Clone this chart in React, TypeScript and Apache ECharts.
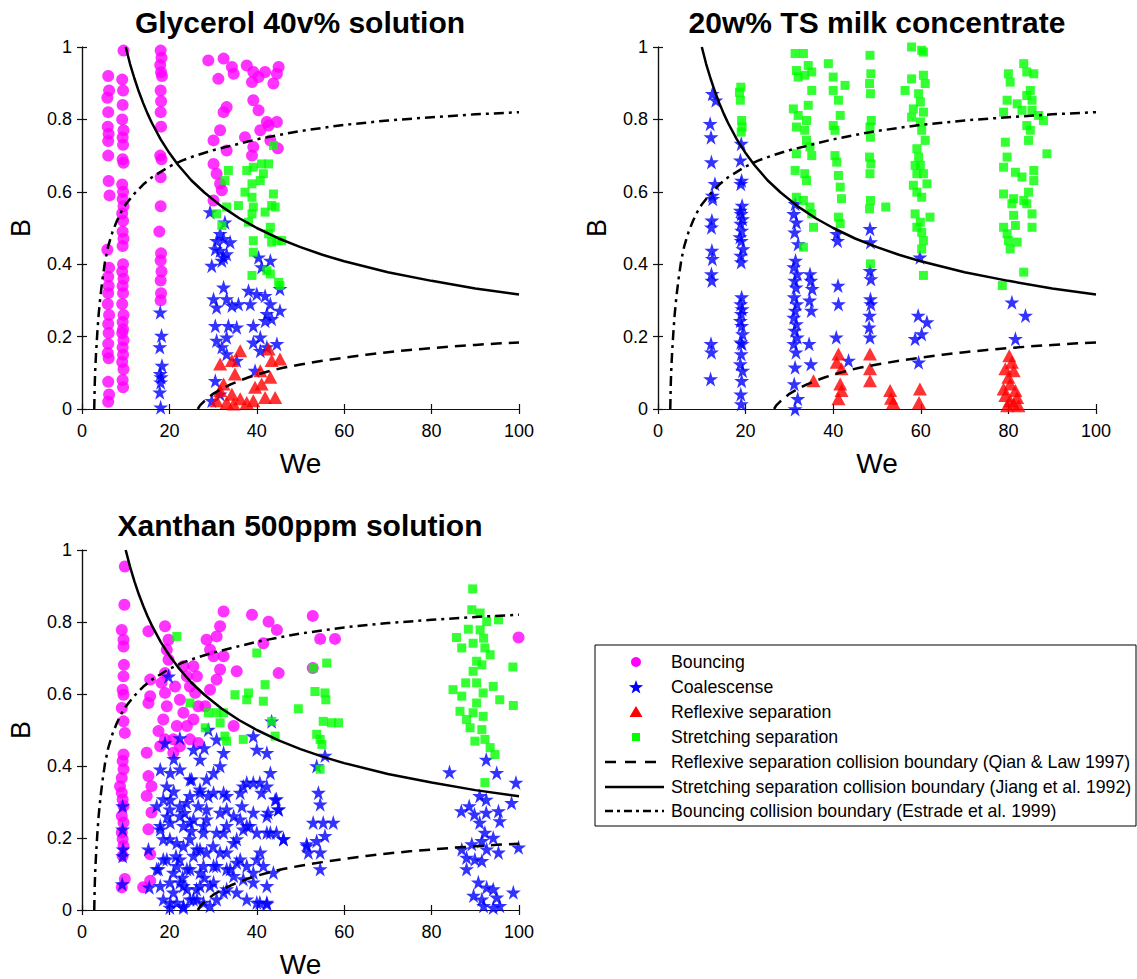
import React, { useEffect, useRef } from 'react';
import * as echarts from 'echarts';

// ---------- tick labels / texts ----------
const xTicks = [0, 20, 40, 60, 80, 100];
const yTicks = [0, 0.2, 0.4, 0.6, 0.8, 1];
const panelTitles = ['Glycerol 40v% solution', '20w% TS milk concentrate', 'Xanthan 500ppm solution'];
const legendLabels = [
  'Bouncing',
  'Coalescense',
  'Reflexive separation',
  'Stretching separation',
  'Reflexive separation collision boundary (Qian & Law 1997)',
  'Stretching separation collision boundary (Jiang et al. 1992)',
  'Bouncing collision boundary (Estrade et al. 1999)',
];

// ---------- boundary curves ----------
const reflexiveWe = [26.5, 27, 28, 29, 30, 32, 34, 36, 38, 40, 43, 46, 50, 55, 60, 65, 70, 75, 80, 85, 90, 95, 100];
const reflexiveB = [0, 0.01, 0.022, 0.032, 0.042, 0.056, 0.068, 0.078, 0.087, 0.095, 0.105, 0.114, 0.123, 0.133, 0.142, 0.15, 0.157, 0.163, 0.168, 0.173, 0.177, 0.181, 0.184];
const stretchWe = [10, 11, 12, 13, 14, 15, 16, 18, 20, 22, 25, 28, 32, 36, 40, 45, 50, 55, 60, 70, 80, 90, 100];
const stretchB = [1.0, 0.953, 0.913, 0.877, 0.845, 0.816, 0.79, 0.745, 0.707, 0.674, 0.632, 0.598, 0.559, 0.527, 0.5, 0.471, 0.447, 0.426, 0.408, 0.378, 0.354, 0.333, 0.316];
const bounceWe = [2.8, 2.9, 3.0, 3.2, 3.5, 3.8, 4.2, 4.7, 5.3, 6, 7, 8, 9, 10, 12, 14, 16, 18, 20, 23, 26, 30, 35, 40, 45, 50, 60, 70, 80, 90, 100];
const bounceB = [0, 0.06, 0.1, 0.15, 0.21, 0.26, 0.31, 0.36, 0.41, 0.45, 0.49, 0.52, 0.545, 0.565, 0.595, 0.62, 0.64, 0.655, 0.67, 0.687, 0.7, 0.715, 0.73, 0.745, 0.757, 0.768, 0.785, 0.797, 0.806, 0.814, 0.82];

// ---------- Glycerol 40v% ----------
const glyBouncing = [
  [6.0, 0.92], [6.2, 0.88], [5.8, 0.86], [6.0, 0.82], [5.9, 0.78], [6.1, 0.76], [6.0, 0.74], [6.0, 0.7], [6.1, 0.63], [6.3, 0.59],
  [5.8, 0.44], [6.2, 0.39], [6.0, 0.365], [6.1, 0.34], [6.0, 0.32], [5.9, 0.29], [6.2, 0.26], [6.0, 0.235], [6.1, 0.21], [6.0, 0.18],
  [5.9, 0.155], [6.1, 0.14], [6.0, 0.075], [6.2, 0.04], [6.0, 0.02],
  [9.5, 0.99], [9.2, 0.91], [9.4, 0.88], [9.3, 0.84], [9.2, 0.8], [9.5, 0.77], [9.3, 0.75], [9.4, 0.73], [9.3, 0.69], [9.5, 0.68],
  [9.2, 0.62], [9.4, 0.6], [9.3, 0.58], [9.5, 0.56], [9.2, 0.54], [9.4, 0.52], [9.3, 0.49], [9.5, 0.47], [9.3, 0.45], [9.4, 0.4],
  [9.2, 0.38], [9.5, 0.36], [9.3, 0.34], [9.4, 0.32], [9.2, 0.29], [9.5, 0.26], [9.3, 0.24], [9.4, 0.22], [9.2, 0.21], [9.5, 0.19],
  [9.3, 0.17], [9.4, 0.15], [9.2, 0.13], [9.5, 0.11], [9.3, 0.08], [9.4, 0.06],
  [18.0, 0.99], [18.2, 0.97], [17.9, 0.95], [18.1, 0.93], [18.3, 0.92], [18.0, 0.88], [18.1, 0.85], [18.0, 0.82], [18.1, 0.78], [17.9, 0.7],
  [18.2, 0.69], [18.0, 0.64], [18.0, 0.56], [17.7, 0.49], [18.1, 0.43], [18.0, 0.41], [18.2, 0.38], [18.0, 0.355], [18.1, 0.32], [18.0, 0.3],
  [28.9, 0.963], [32.4, 0.968], [31.2, 0.912], [34.3, 0.945], [34.7, 0.926], [37.7, 0.949], [39.2, 0.931], [40.4, 0.917], [41.9, 0.931], [45.0, 0.945],
  [44.6, 0.926], [43.8, 0.899], [38.9, 0.903], [39.2, 0.853], [40.4, 0.825], [33.1, 0.834], [32.4, 0.82], [42.3, 0.793], [44.6, 0.793], [40.8, 0.77],
  [31.6, 0.77], [37.3, 0.751], [30.1, 0.742], [39.2, 0.724], [33.1, 0.714], [38.9, 0.7], [30.1, 0.677], [30.8, 0.65], [31.6, 0.622], [32.0, 0.604],
  [30.1, 0.576], [43.1, 0.742], [42.7, 0.783], [44.8, 0.72],
];
const glyCoalescence = [
  [17.9, 0.267], [18.2, 0.203], [17.8, 0.171], [18.3, 0.12], [17.9, 0.097], [18.1, 0.088], [18.0, 0.074], [17.8, 0.046], [18.0, 0.005],
  [29.3, 0.544], [32.7, 0.516], [31.6, 0.484], [30.8, 0.465], [32.4, 0.47], [33.9, 0.461], [30.5, 0.442], [31.6, 0.438], [33.1, 0.428], [32.0, 0.41],
  [29.7, 0.396], [32.4, 0.419], [43.1, 0.41], [41.1, 0.392], [40.4, 0.419],
  [32.4, 0.336], [30.1, 0.304], [33.1, 0.304], [30.8, 0.281], [34.3, 0.286], [38.1, 0.327], [40.0, 0.318], [41.9, 0.313], [43.1, 0.29], [45.3, 0.332],
  [38.5, 0.29], [35.8, 0.29], [30.5, 0.23], [33.5, 0.23], [35.4, 0.226], [39.2, 0.23], [41.9, 0.244], [43.4, 0.249], [45.3, 0.272], [30.8, 0.189],
  [33.1, 0.198], [32.0, 0.171], [39.2, 0.184], [40.8, 0.161], [42.3, 0.171], [44.6, 0.18], [33.1, 0.152], [35.4, 0.134], [39.6, 0.106], [30.5, 0.078],
  [31.6, 0.041], [29.7, 0.023], [40.8, 0.198], [42.3, 0.263],
];
const glyReflexive = [
  [36.2, 0.161], [34.3, 0.134], [31.6, 0.124], [42.7, 0.166], [43.4, 0.134], [45.3, 0.138], [40.8, 0.106], [35.0, 0.097], [32.4, 0.069], [31.6, 0.051],
  [34.3, 0.041], [36.2, 0.028], [39.2, 0.023], [41.9, 0.032], [44.2, 0.032], [30.8, 0.023], [33.1, 0.018], [37.7, 0.018], [34.7, 0.014], [41.1, 0.069],
  [39.6, 0.06], [43.1, 0.088],
];
const glyStretching = [
  [43.8, 0.728], [33.5, 0.659], [32.7, 0.631], [37.7, 0.659], [39.2, 0.668], [41.1, 0.677], [42.7, 0.677], [41.5, 0.65], [40.8, 0.631], [38.9, 0.622],
  [37.3, 0.599], [43.8, 0.594], [38.9, 0.585], [33.1, 0.558], [35.8, 0.562], [39.2, 0.558], [41.9, 0.544], [43.4, 0.562], [44.2, 0.558], [30.8, 0.539],
  [32.0, 0.507], [43.1, 0.502], [42.7, 0.484], [44.6, 0.465], [43.4, 0.461], [45.7, 0.465], [39.2, 0.465], [39.2, 0.433], [42.3, 0.382], [43.1, 0.373],
  [38.9, 0.369], [45.0, 0.35], [45.3, 0.341], [38.1, 0.516], [38.9, 0.539],
];

// ---------- 20w% TS milk concentrate ----------
const milkBouncing: number[][] = [];
const milkCoalescence = [
  [12.4, 0.871], [13.2, 0.853], [11.9, 0.788], [12.1, 0.751], [12.2, 0.682], [13.0, 0.622], [12.4, 0.59], [12.5, 0.581], [12.3, 0.521], [12.2, 0.502],
  [12.3, 0.438], [12.4, 0.415], [12.2, 0.373], [12.3, 0.355], [12.1, 0.18], [12.2, 0.157], [12.0, 0.083],
  [19.0, 0.733], [18.8, 0.687], [19.1, 0.631], [18.9, 0.622], [19.2, 0.562], [18.8, 0.548], [19.0, 0.539], [19.3, 0.525], [18.9, 0.512], [19.1, 0.493],
  [18.7, 0.475], [19.0, 0.465], [19.4, 0.442], [18.9, 0.424], [19.0, 0.406], [19.1, 0.309], [18.9, 0.29], [19.2, 0.276], [19.0, 0.263], [18.8, 0.244],
  [19.1, 0.23], [19.3, 0.207], [18.9, 0.184], [19.2, 0.18], [19.0, 0.152], [18.8, 0.124], [19.3, 0.106], [19.1, 0.078], [18.9, 0.041], [19.0, 0.014],
  [31.3, 0.567], [31.0, 0.539], [31.6, 0.516], [31.2, 0.488], [32.0, 0.456], [31.4, 0.41], [31.0, 0.392], [31.8, 0.373], [31.2, 0.355], [31.5, 0.336],
  [31.1, 0.309], [31.7, 0.29], [31.3, 0.272], [31.0, 0.253], [31.6, 0.235], [31.2, 0.217], [31.8, 0.198], [31.0, 0.18], [31.5, 0.157], [31.3, 0.115],
  [31.1, 0.069], [31.9, 0.028], [31.3, 0.0],
  [34.7, 0.373], [34.9, 0.355], [35.2, 0.332], [34.6, 0.3], [35.0, 0.272], [34.5, 0.18], [34.9, 0.124],
  [40.8, 0.484], [41.0, 0.465], [41.1, 0.341], [41.2, 0.29], [40.7, 0.198], [43.5, 0.134],
  [48.4, 0.498], [48.5, 0.461], [48.4, 0.382], [48.6, 0.359], [48.5, 0.304], [48.6, 0.29], [48.3, 0.258], [48.2, 0.226], [48.4, 0.198],
  [59.8, 0.419], [59.4, 0.258], [61.4, 0.24], [60.2, 0.207], [58.7, 0.194], [59.5, 0.129],
  [80.8, 0.295], [83.9, 0.258], [81.6, 0.194],
];
const milkReflexive = [
  [35.5, 0.078], [41.2, 0.152], [40.8, 0.129], [41.9, 0.111], [41.6, 0.069], [41.9, 0.051], [41.2, 0.028],
  [48.4, 0.152], [48.4, 0.111], [48.4, 0.078], [53.0, 0.051], [53.2, 0.03], [53.7, 0.018], [59.8, 0.055], [59.6, 0.018],
  [80.2, 0.147], [80.8, 0.129], [79.3, 0.111], [81.2, 0.106], [80.0, 0.088], [80.4, 0.069], [78.9, 0.055], [81.6, 0.051], [79.3, 0.037], [82.0, 0.032],
  [80.4, 0.023], [81.2, 0.014], [79.7, 0.009], [82.3, 0.009],
];
const milkStretching = [
  [18.9, 0.889], [18.6, 0.875], [18.8, 0.853], [19.1, 0.797], [19.2, 0.779], [19.0, 0.765],
  [31.3, 0.982], [33.2, 0.982], [31.6, 0.935], [34.3, 0.949], [35.1, 0.931], [32.0, 0.917], [33.5, 0.922], [35.1, 0.88], [30.9, 0.829], [34.3, 0.839],
  [32.0, 0.811], [33.9, 0.797], [31.6, 0.779], [33.5, 0.77], [33.9, 0.742], [34.7, 0.724], [35.1, 0.7], [31.6, 0.705], [31.3, 0.659], [33.5, 0.65],
  [33.9, 0.631], [31.6, 0.585], [33.2, 0.576], [34.7, 0.558], [35.1, 0.539], [35.5, 0.502], [33.2, 0.447],
  [38.9, 0.954], [40.0, 0.917], [42.7, 0.894], [40.0, 0.88], [41.2, 0.853], [41.6, 0.811], [40.0, 0.783], [40.4, 0.77], [40.4, 0.7], [40.8, 0.682],
  [41.2, 0.645], [41.6, 0.613], [41.9, 0.581], [41.2, 0.53], [41.6, 0.512],
  [48.4, 0.977], [48.6, 0.926], [48.3, 0.899], [48.5, 0.871], [48.7, 0.797], [48.4, 0.779], [48.5, 0.751], [48.3, 0.696], [48.6, 0.677], [48.4, 0.65],
  [48.5, 0.576], [48.3, 0.553], [48.5, 0.401], [52.0, 0.558],
  [57.9, 1.0], [60.2, 0.991], [60.6, 0.986], [57.9, 0.912], [60.6, 0.922], [61.0, 0.899], [56.4, 0.88], [59.5, 0.871], [59.9, 0.848], [58.3, 0.829],
  [60.6, 0.82], [57.9, 0.806], [59.9, 0.793], [60.2, 0.77], [61.0, 0.742], [59.1, 0.719], [59.5, 0.696], [58.7, 0.673], [59.9, 0.673], [59.1, 0.65],
  [60.6, 0.65], [58.3, 0.618], [61.4, 0.622], [59.1, 0.599], [60.2, 0.585], [58.7, 0.539], [62.1, 0.53], [59.9, 0.516], [59.1, 0.502], [60.2, 0.488],
  [60.6, 0.465], [60.2, 0.442], [60.6, 0.369],
  [83.5, 0.954], [84.2, 0.931], [85.8, 0.926], [80.0, 0.926], [80.4, 0.903], [85.0, 0.88], [84.2, 0.866], [85.4, 0.853], [79.7, 0.853], [82.0, 0.843],
  [78.9, 0.82], [83.1, 0.825], [85.4, 0.825], [86.9, 0.811], [88.0, 0.797], [84.2, 0.783], [85.0, 0.77], [84.6, 0.742], [79.3, 0.737], [88.8, 0.705],
  [79.7, 0.696], [78.9, 0.668], [81.6, 0.654], [83.1, 0.641], [85.8, 0.659], [85.8, 0.631], [84.6, 0.599], [78.9, 0.594], [81.2, 0.581], [83.5, 0.576],
  [84.2, 0.567], [80.8, 0.567], [81.2, 0.535], [85.4, 0.539], [78.9, 0.502], [81.6, 0.507], [79.7, 0.484], [85.4, 0.502], [80.0, 0.465], [82.0, 0.461],
  [80.4, 0.442], [83.5, 0.378], [78.6, 0.341],
];

// ---------- Xanthan 500ppm ----------
const xanBouncing = [
  [9.8, 0.954], [9.7, 0.848], [9.1, 0.778], [9.5, 0.751], [9.5, 0.732], [9.6, 0.681], [9.5, 0.649], [9.3, 0.612], [9.5, 0.598], [9.1, 0.561],
  [9.5, 0.524], [9.8, 0.492], [9.5, 0.432], [9.3, 0.414], [9.5, 0.391], [9.1, 0.367], [8.7, 0.344], [9.1, 0.326], [9.3, 0.307], [9.5, 0.289],
  [9.1, 0.261], [9.5, 0.243], [9.1, 0.215], [9.3, 0.197], [9.5, 0.178], [9.3, 0.15], [9.8, 0.086], [9.1, 0.063],
  [15.2, 0.774], [15.6, 0.64], [15.6, 0.594], [15.2, 0.575], [14.8, 0.437], [15.2, 0.372], [15.9, 0.344], [14.8, 0.317], [15.9, 0.271], [15.2, 0.224],
  [15.6, 0.155], [14.0, 0.063], [15.6, 0.081],
  [19.0, 0.788], [19.8, 0.751], [19.4, 0.723], [19.8, 0.695], [19.0, 0.658], [18.2, 0.631], [19.0, 0.603], [19.4, 0.566], [18.6, 0.529], [17.5, 0.497],
  [19.0, 0.474], [17.9, 0.455], [20.9, 0.437], [21.7, 0.511], [23.2, 0.548], [22.4, 0.584], [24.0, 0.649], [24.7, 0.621], [23.2, 0.677], [26.3, 0.649],
  [25.9, 0.603], [26.6, 0.566], [25.5, 0.529], [28.5, 0.751], [30.8, 0.76], [31.6, 0.788], [32.4, 0.829], [30.1, 0.705], [31.6, 0.668], [30.8, 0.64],
  [29.3, 0.612], [28.2, 0.566], [25.5, 0.677], [34.7, 0.511], [35.4, 0.663], [38.9, 0.82], [42.7, 0.801], [44.6, 0.778], [41.5, 0.741], [45.0, 0.658],
  [21.3, 0.621], [20.9, 0.474], [24.0, 0.511], [24.7, 0.474], [26.6, 0.464], [22.4, 0.455], [32.4, 0.705], [29.3, 0.723],
  [52.8, 0.817], [54.5, 0.753], [57.9, 0.753], [52.8, 0.672], [99.9, 0.757],
];
const xanCoalescence = [
  [9.3, 0.289], [9.3, 0.224], [9.4, 0.169], [9.3, 0.15], [9.2, 0.072], [15.2, 0.169], [15.4, 0.063], [19.8, 0.649],
  [19.0, 0.464], [22.4, 0.478], [25.5, 0.446], [27.0, 0.418], [28.9, 0.501], [30.8, 0.474], [32.4, 0.437], [31.6, 0.4], [30.1, 0.381], [28.5, 0.363],
  [24.7, 0.363], [22.4, 0.391], [20.2, 0.381], [17.9, 0.391], [19.4, 0.344], [17.1, 0.289], [20.2, 0.307], [22.4, 0.289], [24.7, 0.317], [27.0, 0.326],
  [26.6, 0.289], [30.1, 0.326], [33.1, 0.317], [31.6, 0.271], [28.5, 0.252], [25.5, 0.252], [23.2, 0.234], [20.2, 0.243], [17.9, 0.224], [18.6, 0.197],
  [21.7, 0.187], [24.7, 0.197], [27.8, 0.215], [30.8, 0.215], [33.1, 0.234], [34.7, 0.187], [31.6, 0.16], [28.5, 0.16], [25.5, 0.151], [22.4, 0.141],
  [19.4, 0.141], [17.5, 0.114], [20.9, 0.104], [24.0, 0.114], [27.0, 0.104], [30.1, 0.123], [33.1, 0.114], [35.4, 0.132], [17.9, 0.067], [20.9, 0.049],
  [24.0, 0.058], [27.0, 0.067], [30.1, 0.077], [32.4, 0.049], [20.2, 0.021], [23.2, 0.012], [26.3, 0.03], [29.3, 0.012], [22.4, 0.077], [26.3, 0.169],
  [21.0, 0.33], [23.5, 0.27], [25.0, 0.22], [21.5, 0.15], [23.0, 0.09], [25.5, 0.03], [28.0, 0.09], [19.5, 0.26], [21.0, 0.42], [28.0, 0.45],
  [37.7, 0.354], [40.7, 0.354], [36.2, 0.326], [44.5, 0.308], [42.6, 0.271], [44.9, 0.28], [32.4, 0.326], [28.9, 0.317], [25.1, 0.363], [27.0, 0.335],
  [23.9, 0.298], [28.5, 0.28], [33.1, 0.28], [36.2, 0.252], [38.4, 0.234], [42.3, 0.215], [44.5, 0.215], [46.1, 0.197], [35.4, 0.197], [32.4, 0.215],
  [27.8, 0.234], [24.7, 0.243], [22.4, 0.261], [20.1, 0.28], [18.6, 0.308], [17.9, 0.234], [20.1, 0.197], [23.2, 0.178], [27.0, 0.169], [30.0, 0.178],
  [33.1, 0.16], [36.2, 0.141], [40.0, 0.141], [41.5, 0.123], [39.2, 0.104], [36.9, 0.086], [33.9, 0.114], [30.8, 0.123], [27.8, 0.123], [24.7, 0.114],
  [21.7, 0.123], [18.6, 0.141], [17.1, 0.114], [20.1, 0.077], [23.2, 0.067], [26.2, 0.058], [29.3, 0.067], [33.1, 0.058], [35.4, 0.049], [37.7, 0.03],
  [40.7, 0.021], [42.3, 0.017], [30.8, 0.03], [27.8, 0.021], [24.7, 0.03], [21.7, 0.021], [18.6, 0.03], [23.2, 0.007], [20.1, 0.007],
  [36.9, 0.344], [39.2, 0.354], [41.1, 0.326], [43.1, 0.381], [42.3, 0.344], [44.2, 0.307], [45.0, 0.28], [36.6, 0.289], [39.2, 0.271], [42.3, 0.261],
  [37.7, 0.234], [34.7, 0.261], [36.9, 0.224], [40.0, 0.215], [43.1, 0.215], [46.1, 0.197], [40.8, 0.16], [37.7, 0.123], [34.7, 0.095], [39.2, 0.077],
  [43.8, 0.104], [42.3, 0.067], [40.0, 0.021], [42.3, 0.021], [43.4, 0.524], [39.2, 0.483], [42.3, 0.437], [40.0, 0.446], [51.5, 0.178],
  [55.6, 0.429], [53.7, 0.4], [54.1, 0.326], [54.5, 0.294], [52.9, 0.243], [55.2, 0.243], [57.5, 0.243], [55.6, 0.206], [51.4, 0.183], [53.7, 0.192],
  [51.8, 0.16], [54.5, 0.16], [54.5, 0.114],
  [84.1, 0.383], [92.5, 0.418], [94.9, 0.381], [99.3, 0.354], [91.0, 0.317], [92.5, 0.307], [98.3, 0.298], [86.8, 0.275], [88.6, 0.289], [89.8, 0.266],
  [92.5, 0.271], [95.3, 0.275], [95.6, 0.247], [91.0, 0.243], [92.2, 0.215], [94.1, 0.201], [91.5, 0.192], [86.9, 0.169], [89.2, 0.183], [92.6, 0.169],
  [95.3, 0.16], [99.9, 0.174], [88.0, 0.146], [89.9, 0.141], [91.5, 0.137], [88.0, 0.114], [90.7, 0.077], [92.6, 0.063], [94.1, 0.058], [89.6, 0.04],
  [91.5, 0.03], [94.9, 0.035], [98.7, 0.049], [91.9, 0.012], [94.1, 0.007], [95.6, 0.012],
];
const xanReflexive: number[][] = [];
const xanStretching = [
  [21.7, 0.76], [40.0, 0.714], [41.9, 0.626], [35.0, 0.598], [38.1, 0.603], [37.7, 0.584], [41.5, 0.58], [24.7, 0.575], [49.5, 0.559], [28.9, 0.548],
  [30.8, 0.548], [32.4, 0.548], [31.6, 0.52], [28.2, 0.506], [43.4, 0.524], [32.7, 0.483], [33.1, 0.469], [36.9, 0.474], [44.2, 0.483],
  [52.9, 0.672], [56.0, 0.686], [53.3, 0.607], [55.6, 0.603], [55.8, 0.584], [55.2, 0.524], [57.1, 0.52], [58.7, 0.52], [53.7, 0.488], [54.5, 0.474],
  [54.9, 0.46], [54.5, 0.391],
  [89.4, 0.892], [89.2, 0.834], [91.1, 0.825], [92.6, 0.801], [95.3, 0.806], [88.4, 0.78], [85.7, 0.757], [91.1, 0.778], [91.9, 0.755], [89.5, 0.741],
  [86.9, 0.728], [92.2, 0.728], [93.4, 0.709], [90.3, 0.691], [91.5, 0.681], [89.5, 0.663], [98.6, 0.675], [87.8, 0.631], [84.9, 0.612], [90.3, 0.631],
  [94.1, 0.621], [91.8, 0.603], [95.6, 0.584], [86.9, 0.594], [90.3, 0.575], [98.7, 0.568], [86.5, 0.552], [89.5, 0.548], [91.8, 0.538], [88.0, 0.529],
  [88.8, 0.506], [91.5, 0.501], [89.9, 0.469], [92.2, 0.474], [93.4, 0.451], [94.5, 0.432], [92.2, 0.354],
];

const panelData = [
  { bouncing: glyBouncing, coalescence: glyCoalescence, reflexive: glyReflexive, stretching: glyStretching },
  { bouncing: milkBouncing, coalescence: milkCoalescence, reflexive: milkReflexive, stretching: milkStretching },
  { bouncing: xanBouncing, coalescence: xanCoalescence, reflexive: xanReflexive, stretching: xanStretching },
];

const STAR = 'path://M50,0L61.2,34.5L97.6,34.5L68.2,55.9L79.4,90.5L50,69.1L20.6,90.5L31.8,55.9L2.4,34.5L38.8,34.5Z';
const FONT = '"Liberation Sans", Arial, Helvetica, sans-serif';
const MAGENTA = '#ff00ff';
const BLUE = '#0000ff';
const RED = '#ff0000';
const GREEN = '#00ff00';

const grids = [
  { left: 82, top: 47, width: 437, height: 362 },
  { left: 658, top: 47, width: 438, height: 362 },
  { left: 82, top: 550, width: 437, height: 361 },
];

function zip(xs: number[], ys: number[]) {
  return xs.map((x, i) => [x, ys[i]]);
}

function starPoints(cx: number, cy: number, r: number) {
  const pts: number[][] = [];
  for (let i = 0; i < 10; i++) {
    const a = -Math.PI / 2 + (i * Math.PI) / 5;
    const rr = i % 2 === 0 ? r : r * 0.4;
    pts.push([cx + rr * Math.cos(a), cy + rr * Math.sin(a)]);
  }
  return pts;
}

function buildOption() {
  const xAxis: any[] = [];
  const yAxis: any[] = [];
  const series: any[] = [];
  const axisLine = { show: true, lineStyle: { color: '#111', width: 1.2 } };
  const tick = { show: true, inside: true, length: 5, lineStyle: { color: '#111', width: 1.2 } };
  grids.forEach((g, i) => {
    xAxis.push({
      gridIndex: i, type: 'value', position: 'bottom', min: xTicks[0], max: xTicks[xTicks.length - 1],
      interval: xTicks[1] - xTicks[0], axisLine, axisTick: tick, splitLine: { show: false },
      axisLabel: { color: '#000', fontSize: 18, margin: 13, fontFamily: FONT },
      name: 'We', nameLocation: 'middle', nameGap: 40,
      nameTextStyle: { color: '#000', fontSize: 28, fontFamily: FONT },
    });
    xAxis.push({
      gridIndex: i, type: 'value', position: 'top', min: xTicks[0], max: xTicks[xTicks.length - 1],
      interval: xTicks[1] - xTicks[0], axisLine, axisTick: tick, splitLine: { show: false },
      axisLabel: { show: false },
    });
    yAxis.push({
      gridIndex: i, type: 'value', position: 'left', min: yTicks[0], max: yTicks[yTicks.length - 1],
      interval: yTicks[1] - yTicks[0], axisLine, axisTick: tick, splitLine: { show: false },
      axisLabel: { color: '#000', fontSize: 18, margin: 10, fontFamily: FONT },
      name: 'B', nameLocation: 'middle', nameGap: 48, nameRotate: 90,
      nameTextStyle: { color: '#000', fontSize: 27, fontFamily: FONT },
    });
    yAxis.push({
      gridIndex: i, type: 'value', position: 'right', min: yTicks[0], max: yTicks[yTicks.length - 1],
      interval: yTicks[1] - yTicks[0], axisLine, axisTick: tick, splitLine: { show: false },
      axisLabel: { show: false },
    });
    const d = panelData[i];
    const base = { xAxisIndex: 2 * i, yAxisIndex: 2 * i, silent: true };
    series.push({ ...base, type: 'scatter', name: legendLabels[0], data: d.bouncing, symbol: 'circle', symbolSize: 12, itemStyle: { color: MAGENTA }, z: 2 });
    series.push({ ...base, type: 'scatter', name: legendLabels[1], data: d.coalescence, symbol: STAR, symbolSize: 15, itemStyle: { color: BLUE }, z: 3 });
    series.push({ ...base, type: 'scatter', name: legendLabels[2], data: d.reflexive, symbol: 'triangle', symbolSize: [14, 13], itemStyle: { color: RED }, z: 4 });
    series.push({ ...base, type: 'scatter', name: legendLabels[3], data: d.stretching, symbol: 'rect', symbolSize: 9, itemStyle: { color: GREEN }, z: 5 });
    const lineBase = { ...base, type: 'line', symbol: 'none', showSymbol: false, smooth: false, clip: true, z: 6 };
    series.push({ ...lineBase, name: legendLabels[4], data: zip(reflexiveWe, reflexiveB), lineStyle: { color: '#000', width: 2.5, type: [11, 7] } });
    series.push({ ...lineBase, name: legendLabels[5], data: zip(stretchWe, stretchB), lineStyle: { color: '#000', width: 2.5, type: 'solid' } });
    series.push({ ...lineBase, name: legendLabels[6], data: zip(bounceWe, bounceB), lineStyle: { color: '#000', width: 2.5, type: [10, 5, 3, 5] } });
  });

  const titleCenters = [[300, 22], [877, 22], [300, 525]];
  const graphics: any[] = panelTitles.map((t, i) => ({
    type: 'text', x: titleCenters[i][0], y: titleCenters[i][1], silent: true,
    style: { text: t, fill: '#000', font: `bold 30px ${FONT}`, align: 'center', verticalAlign: 'middle', textAlign: 'center', textVerticalAlign: 'middle' },
  }));

  // legend
  const lx = 595, ly = 645, lw = 541, lh = 181;
  graphics.push({ type: 'rect', shape: { x: lx, y: ly, width: lw, height: lh }, style: { fill: '#fff', stroke: '#000', lineWidth: 1 }, silent: true, z: 10 });
  const rowY = [662, 687, 712, 737, 762, 787, 811];
  const mx = 636;
  graphics.push({ type: 'circle', shape: { cx: mx, cy: rowY[0], r: 5 }, style: { fill: MAGENTA }, z: 11, silent: true });
  graphics.push({ type: 'polygon', shape: { points: starPoints(mx, rowY[1] + 0.5, 7.5) }, style: { fill: BLUE }, z: 11, silent: true });
  graphics.push({ type: 'polygon', shape: { points: [[mx, rowY[2] - 6], [mx + 6.5, rowY[2] + 5], [mx - 6.5, rowY[2] + 5]] }, style: { fill: RED }, z: 11, silent: true });
  graphics.push({ type: 'rect', shape: { x: mx - 4, y: rowY[3] - 4, width: 8, height: 8 }, style: { fill: GREEN }, z: 11, silent: true });
  const lineDefs = [[11, 9], null, [8, 4, 3, 4]];
  lineDefs.forEach((dash, k) => {
    graphics.push({
      type: 'line', shape: { x1: 605, y1: rowY[4 + k], x2: 664, y2: rowY[4 + k] },
      style: { stroke: '#000', lineWidth: 2.5, lineDash: dash || undefined }, z: 11, silent: true,
    });
  });
  legendLabels.forEach((lab, k) => {
    graphics.push({
      type: 'text', x: 671, y: rowY[k], z: 11, silent: true,
      style: { text: lab, fill: '#000', font: `17.7px ${FONT}`, align: 'left', verticalAlign: 'middle', textAlign: 'left', textVerticalAlign: 'middle' },
    });
  });

  return {
    animation: false,
    backgroundColor: '#fff',
    textStyle: { fontFamily: FONT },
    grid: grids.map((g) => ({ ...g, containLabel: false })),
    xAxis,
    yAxis,
    series,
    graphic: { elements: graphics },
  };
}

export default function App() {
  const ref = useRef<HTMLDivElement>(null);
  useEffect(() => {
    if (!ref.current) return;
    const chart = echarts.init(ref.current, undefined, { renderer: 'svg' });
    chart.setOption(buildOption() as any);
    return () => chart.dispose();
  }, []);
  return <div ref={ref} style={{ position: 'absolute', left: 0, top: 0, width: 1137, height: 979, background: '#fff' }} />;
}
